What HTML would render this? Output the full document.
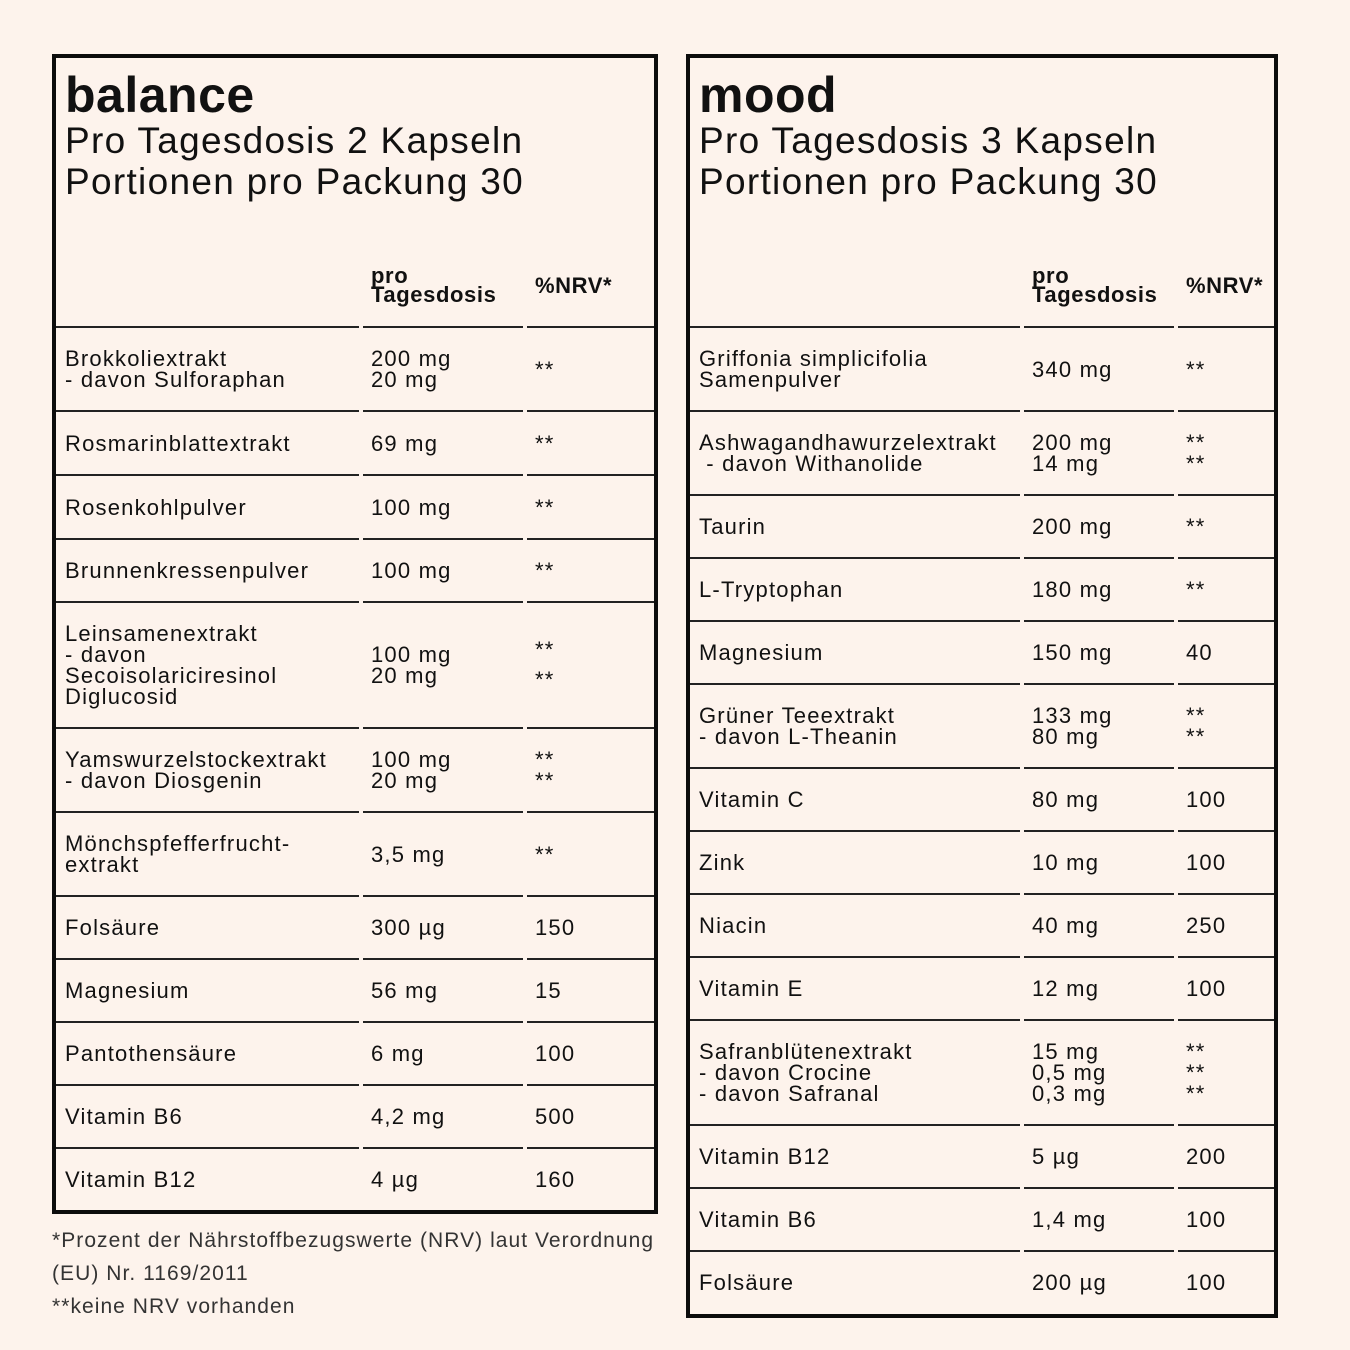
<!DOCTYPE html>
<html><head><meta charset="utf-8"><style>
*{margin:0;padding:0;box-sizing:border-box}
body{width:1350px;height:1350px;background:#fdf3ec;position:relative;overflow:hidden;font-family:"Liberation Sans",sans-serif;color:#111}
.box{position:absolute;border:4px solid #0c0c0c}
.t1{position:absolute;font-weight:bold;font-size:50px;line-height:46px;letter-spacing:0.5px}
.t2{position:absolute;font-size:37px;line-height:41px;letter-spacing:1.3px}
.c{position:absolute;display:flex;align-items:center;font-size:22px;line-height:21px;letter-spacing:1.2px}
.ln{position:absolute;height:2px;background:#222}
.h{font-weight:bold;font-size:22px;line-height:19px;letter-spacing:0.6px}
.foot{position:absolute;left:52px;font-size:21px;color:#333;line-height:33px;letter-spacing:1.05px}
</style></head><body>
<div class="box" style="left:52px;top:54px;width:606px;height:1160px"></div>
<div class="box" style="left:686px;top:54px;width:592px;height:1264px"></div>
<div class="t1" style="left:65px;top:72px">balance</div>
<div class="t2" style="left:65px;top:120px">Pro Tagesdosis 2 Kapseln<br>Portionen pro Packung 30</div>
<div class="t1" style="left:699px;top:72px">mood</div>
<div class="t2" style="left:699px;top:120px">Pro Tagesdosis 3 Kapseln<br>Portionen pro Packung 30</div>
<div class="foot" style="top:1224px">*Prozent der Nährstoffbezugswerte (NRV) laut Verordnung<br>(EU) Nr. 1169/2011<br>**keine NRV vorhanden</div>
<div id="t"></div>
<script>
function table(cols,x0,x1,bounds,rows){
  let h='';
  const xs=[x0,cols[0],cols[1],x1];
  h+=`<div class="c h" style="left:${cols[0]+10}px;top:243px;height:84px">pro<br>Tagesdosis</div>`;
  h+=`<div class="c h" style="left:${cols[1]+10}px;top:243px;height:84px">%NRV*</div>`;
  bounds.forEach((b,i)=>{
    if(i<bounds.length-1)for(let k=0;k<3;k++){
      const l=xs[k]+(k?2:0), r=xs[k+1]-(k<2?2:0);
      h+=`<div class="ln" style="left:${l}px;top:${b-1}px;width:${r-l}px"></div>`;
    }
    if(i==0)return;
    const top=bounds[i-1],ht=b-top,row=rows[i-1];
    for(let k=0;k<3;k++){
      h+=`<div class="c" style="left:${xs[k]+(k?10:9)}px;top:${top}px;height:${ht}px">${row[k]}</div>`;
    }
  });
  document.getElementById('t').insertAdjacentHTML('beforeend',h);
}
table([361,525],56,654,[327,411,475,539,602,728,812,896,959,1022,1085,1148,1210],[
["Brokkoliextrakt<br>- davon Sulforaphan","200 mg<br>20 mg","**"],
["Rosmarinblattextrakt","69 mg","**"],
["Rosenkohlpulver","100 mg","**"],
["Brunnenkressenpulver","100 mg","**"],
["Leinsamenextrakt<br>- davon<br>Secoisolariciresinol<br>Diglucosid","100 mg<br>20 mg","<span style='line-height:30px'>**<br>**</span>"],
["Yamswurzelstockextrakt<br>- davon Diosgenin","100 mg<br>20 mg","**<br>**"],
["Mönchspfefferfrucht-<br>extrakt","3,5 mg","**"],
["Folsäure","300 µg","150"],
["Magnesium","56 mg","15"],
["Pantothensäure","6 mg","100"],
["Vitamin B6","4,2 mg","500"],
["Vitamin B12","4 µg","160"]]);
table([1022,1176],690,1274,[327,411,495,558,621,684,768,831,894,957,1020,1125,1188,1251,1314],[
["Griffonia simplicifolia<br>Samenpulver","340 mg","**"],
["Ashwagandhawurzelextrakt<br>&nbsp;- davon Withanolide","200 mg<br>14 mg","**<br>**"],
["Taurin","200 mg","**"],
["L-Tryptophan","180 mg","**"],
["Magnesium","150 mg","40"],
["Grüner Teeextrakt<br>- davon L-Theanin","133 mg<br>80 mg","**<br>**"],
["Vitamin C","80 mg","100"],
["Zink","10 mg","100"],
["Niacin","40 mg","250"],
["Vitamin E","12 mg","100"],
["Safranblütenextrakt<br>- davon Crocine<br>- davon Safranal","15 mg<br>0,5 mg<br>0,3 mg","**<br>**<br>**"],
["Vitamin B12","5 µg","200"],
["Vitamin B6","1,4 mg","100"],
["Folsäure","200 µg","100"]]);
</script>
</body></html>
